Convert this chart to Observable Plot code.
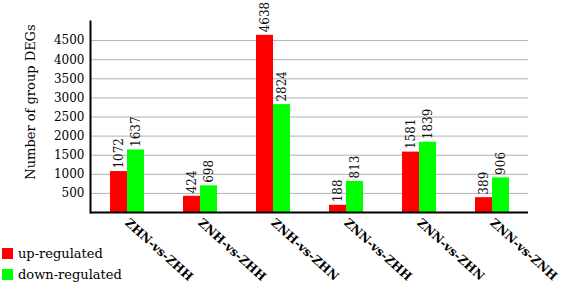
<!DOCTYPE html>
<html>
<head>
<meta charset="utf-8">
<script src="https://cdn.jsdelivr.net/npm/d3@7"></script>
<script src="https://cdn.jsdelivr.net/npm/@observablehq/plot@0.6"></script>
<style>
  html, body { margin: 0; padding: 0; background: #fff; }
  #wrap { position: relative; width: 567px; height: 283px; font-family: "DejaVu Serif", serif; }
  #legend { position: absolute; left: 2px; top: 243px; font-size: 13px; color: #000; }
  .item { display: flex; align-items: center; height: 21px; }
  .sw { width: 11px; height: 11px; margin-right: 5px; }
</style>
</head>
<body>
<div id="wrap"><div id="legend"></div></div>
<script>
const categories = ["ZHN-vs-ZHH", "ZNH-vs-ZHH", "ZNH-vs-ZHN", "ZNN-vs-ZHH", "ZNN-vs-ZHN", "ZNN-vs-ZNH"];
const upRegulated = [1072, 424, 4638, 188, 1581, 389];
const downRegulated = [1637, 698, 2824, 813, 1839, 906];
const seriesNames = ["up-regulated", "down-regulated"];
const seriesColors = ["#ff0000", "#00ff00"];
const yTicks = [500, 1000, 1500, 2000, 2500, 3000, 3500, 4000, 4500];
const yLabel = "Number of group DEGs";

const data = categories.flatMap((c, i) => [
  {category: c, series: seriesNames[0], value: upRegulated[i]},
  {category: c, series: seriesNames[1], value: downRegulated[i]}
]);

const chart = Plot.plot({
  width: 567,
  height: 283,
  marginLeft: 87,
  marginRight: 37,
  marginTop: 21,
  marginBottom: 71,
  style: {fontFamily: "DejaVu Serif", fontSize: "12px", background: "white", color: "#000"},
  fx: {domain: categories, padding: 0, axis: null, label: null},
  x: {domain: seriesNames, paddingInner: 0, paddingOuter: 1.056, axis: null},
  y: {domain: [0, 5000], axis: null},
  color: {domain: seriesNames, range: seriesColors},
  marks: [
    Plot.ruleY(yTicks, {stroke: "#b0b0b0", strokeWidth: 1}),
    Plot.barY(data, {fx: "category", x: "series", y: "value", fill: "series"}),
    Plot.text(data, {fx: "category", x: "series", y: "value", text: d => String(d.value),
      rotate: -90, textAnchor: "start", dy: -3, fill: "#111", fontSize: 12}),
    Plot.ruleY([0], {stroke: "#000", strokeWidth: 2}),
    Plot.frame({anchor: "left", facetAnchor: "left", stroke: "#000", strokeWidth: 2}),
    Plot.axisY({ticks: yTicks, tickFormat: "d", tickSize: 0, tickPadding: 6, label: null, fontSize: 12}),
    Plot.text([yLabel], {frameAnchor: "left", facetAnchor: "left", textAnchor: "middle", rotate: -90,
      dx: -60, dy: -15, fontSize: 13, fill: "#000"}),
    Plot.text(categories, {fx: d => d, frameAnchor: "bottom", text: d => d, rotate: 42,
      textAnchor: "start", lineAnchor: "top", dy: 5, dx: 3, fontWeight: "bold", fontSize: 12, fill: "#000"})
  ]
});

const wrap = document.getElementById("wrap");
wrap.insertBefore(chart, wrap.firstChild);

const legend = document.getElementById("legend");
seriesNames.forEach((name, i) => {
  const item = document.createElement("div");
  item.className = "item";
  const sw = document.createElement("div");
  sw.className = "sw";
  sw.style.background = seriesColors[i];
  const label = document.createElement("span");
  label.textContent = name;
  item.appendChild(sw);
  item.appendChild(label);
  legend.appendChild(item);
});
</script>
</body>
</html>
